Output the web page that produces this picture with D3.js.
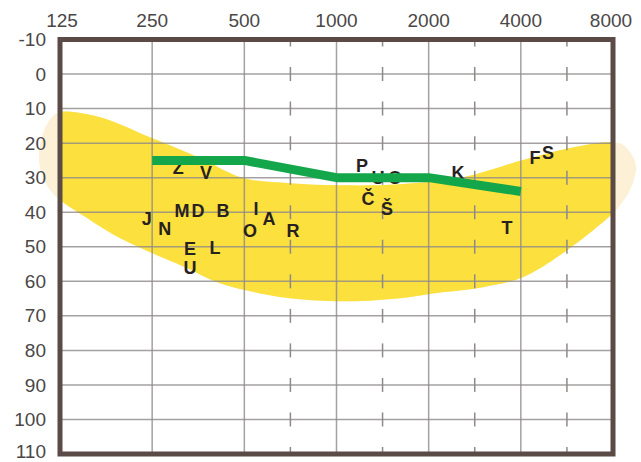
<!DOCTYPE html>
<html>
<head>
<meta charset="utf-8">
<script src="https://cdn.jsdelivr.net/npm/d3@7"></script>
<style>
  html, body { margin: 0; padding: 0; background: #fff; }
  svg { display: block; }
</style>
</head>
<body>
<div id="chart"></div>
<script>
// Audiogram with speech banana

const freqTicks = [125, 250, 500, 1000, 2000, 4000, 8000];
const halfOctaves = [707, 1414, 2828, 5657];
const dbTicks = [-10, 0, 10, 20, 30, 40, 50, 60, 70, 80, 90, 100, 110];

// banana outline, [Hz, dB] going round the shape
const bananaOutline = [
  [125, 11], [169, 12.5], [246, 18.3], [358, 24.3], [495, 30.1], [705, 31.6],
  [1027, 32.2], [1613, 31.9], [2588, 29.9], [4064, 24.9], [5790, 21.4], [8000, 19.7],
  [8750, 20.9], [9505, 26.4], [9090, 33.6], [8430, 38],
  [8000, 40.3], [5662, 51], [4064, 58.8], [3009, 61.7], [2066, 63.5], [1613, 64.9],
  [1107, 65.8], [760, 65.2], [562, 63.5], [416, 60.6], [320, 55.9], [246, 51.6],
  [196, 47.5], [157, 42.3], [125, 36.5],
  [116, 33.6], [108, 27.8], [107, 22], [111, 16.2], [118, 12.3]
];

const lineFreq = [250, 500, 1000, 2000, 4000];
const lineDb = [25, 25, 30, 30, 34];

const phonemes = ['Z', 'V', 'J', 'N', 'M', 'D', 'B', 'I', 'A', 'O', 'R', 'E', 'L', 'U',
  'P', 'U', 'O', 'Č', 'Š', 'K', 'T', 'F', 'S'];
const phonemeFreq = [304, 375, 240, 275, 313, 353, 426, 546, 602, 522, 721, 332, 401, 332,
  1212, 1366, 1553, 1268, 1462, 2494, 3603, 4450, 4907];
const phonemeDb = [27, 28.4, 41.7, 44.6, 39.4, 39.4, 39.4, 38.8, 41.7, 45.2, 45.2, 50.4, 50.1, 55.9,
  26.4, 30, 30, 35.9, 38.8, 28.4, 44.3, 24.3, 22.6];

const width = 641;
const height = 462;
const margin = { top: 39.5, right: 28, bottom: 8, left: 60 };

const x = d3.scaleLog().base(2).domain([125, 8000]).range([margin.left, width - margin.right]);
const y = d3.scaleLinear().domain([-10, 110]).range([margin.top, height - margin.bottom]);

const svg = d3.select('#chart').append('svg').attr('width', width).attr('height', height);

const x0 = x(125), x1 = x(8000), y0 = y(-10), y1 = y(110);

svg.append('defs').append('clipPath').attr('id', 'plot')
  .append('rect').attr('x', x0).attr('y', y0).attr('width', x1 - x0).attr('height', y1 - y0);

const bananaPath = d3.line()
  .x((d) => x(d[0]))
  .y((d) => y(d[1]))
  .curve(d3.curveCatmullRomClosed.alpha(0.5));

// faded part of the banana that spills past the frame
svg.append('path')
  .attr('d', bananaPath(bananaOutline))
  .attr('fill', '#fcf1d6');

svg.append('path')
  .attr('d', bananaPath(bananaOutline))
  .attr('clip-path', 'url(#plot)')
  .attr('fill', '#fbe03e');

// grid
const grid = svg.append('g').attr('stroke', '#8e8a89').attr('stroke-opacity', 0.8).attr('stroke-width', 1.5);
grid.selectAll('line.h')
  .data(dbTicks.slice(1, -1))
  .join('line')
  .attr('x1', x0).attr('x2', x1)
  .attr('y1', (d) => y(d)).attr('y2', (d) => y(d));
grid.selectAll('line.v')
  .data(freqTicks.slice(1, -1))
  .join('line')
  .attr('class', 'v')
  .attr('x1', (d) => x(d)).attr('x2', (d) => x(d))
  .attr('y1', y0).attr('y2', y1);

// short dashes at half octaves, one across each dB line
const dashes = halfOctaves.flatMap((f) => dbTicks.map((db) => ({ f, db })));
svg.append('g')
  .attr('clip-path', 'url(#plot)')
  .attr('stroke', '#8e8a89')
  .attr('stroke-width', 1.5)
  .selectAll('line')
  .data(dashes)
  .join('line')
  .attr('x1', (d) => x(d.f)).attr('x2', (d) => x(d.f))
  .attr('y1', (d) => y(d.db) - 7).attr('y2', (d) => y(d.db) + 7);

// phoneme letters
svg.append('g')
  .selectAll('text')
  .data(phonemes)
  .join('text')
  .attr('x', (d, i) => x(phonemeFreq[i]))
  .attr('y', (d, i) => y(phonemeDb[i]))
  .attr('dy', '0.36em')
  .attr('text-anchor', 'middle')
  .attr('font-family', '"Liberation Sans", Arial, Helvetica, sans-serif')
  .attr('font-weight', 'bold')
  .attr('font-size', 18)
  .attr('fill', '#27221f')
  .text((d) => d);

// green threshold line
svg.append('path')
  .datum(lineFreq.map((f, i) => [f, lineDb[i]]))
  .attr('fill', 'none')
  .attr('stroke', '#14a64b')
  .attr('stroke-width', 9)
  .attr('stroke-linejoin', 'round')
  .attr('d', d3.line().x((d) => x(d[0])).y((d) => y(d[1])));

// frame
svg.append('rect')
  .attr('x', x0).attr('y', y0)
  .attr('width', x1 - x0).attr('height', y1 - y0)
  .attr('fill', 'none')
  .attr('stroke', '#5a4b47')
  .attr('stroke-width', 5);

// axes labels
const labelFont = '"Liberation Sans", Arial, Helvetica, sans-serif';
svg.append('g')
  .selectAll('text')
  .data(freqTicks)
  .join('text')
  .attr('x', (d) => x(d) + (d === 125 ? 2 : d === 8000 ? -2 : 0))
  .attr('y', 27)
  .attr('text-anchor', 'middle')
  .attr('font-family', labelFont)
  .attr('font-size', 19)
  .attr('fill', '#4a4747')
  .text((d) => d);

svg.append('g')
  .selectAll('text')
  .data(dbTicks)
  .join('text')
  .attr('x', 46)
  .attr('y', (d) => Math.min(y(d), height - 11))
  .attr('dy', '0.35em')
  .attr('text-anchor', 'end')
  .attr('font-family', labelFont)
  .attr('font-size', 19)
  .attr('fill', '#4a4747')
  .text((d) => d);
</script>
</body>
</html>
